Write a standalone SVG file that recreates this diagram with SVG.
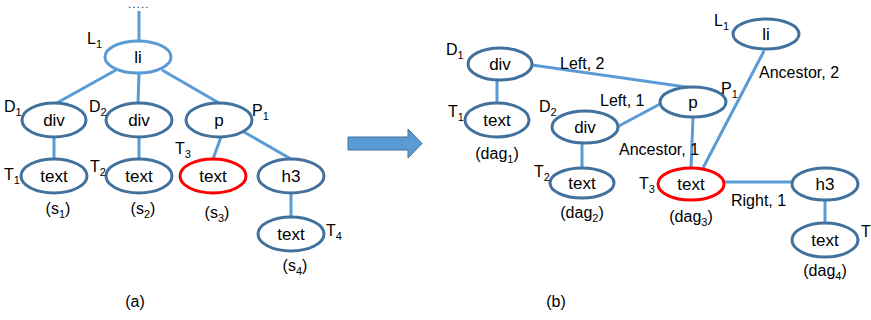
<svg xmlns="http://www.w3.org/2000/svg" width="871" height="320" viewBox="0 0 871 320">
<style>
.n{fill:#fff;stroke:#41719c;stroke-width:3}
.nl{fill:#fff;stroke:#5b9bd5;stroke-width:3}
.nr{fill:#fff;stroke:#ff0000;stroke-width:3}
.e{stroke:#5b9bd5;stroke-width:3;fill:none}
text{font-family:"Liberation Sans",Arial,sans-serif;fill:#000}
.t{font-size:17px;text-anchor:middle}
.l{font-size:16px}
.c{font-size:16px;text-anchor:middle}
.s{font-size:11px}
</style>
<rect width="871" height="320" fill="#fff"/>
<g id="connectors">
<line class="e" x1="139" y1="11" x2="139" y2="41"/>
<line class="e" x1="116" y1="70" x2="55" y2="104"/>
<line class="e" x1="139" y1="74" x2="138" y2="103"/>
<line class="e" x1="162" y1="70" x2="219" y2="103"/>
<line class="e" x1="54" y1="137" x2="54" y2="159"/>
<line class="e" x1="139" y1="137" x2="139" y2="159"/>
<line class="e" x1="221" y1="137" x2="213" y2="159"/>
<line class="e" x1="244" y1="132" x2="291" y2="159"/>
<line class="e" x1="291" y1="193" x2="291" y2="217"/>
<line class="e" x1="497" y1="80" x2="497" y2="104"/>
<line class="e" x1="582" y1="143" x2="582" y2="168"/>
<line class="e" x1="532" y1="65" x2="693" y2="88"/>
<line class="e" x1="617" y1="127" x2="660" y2="104"/>
<line class="e" x1="693" y1="118" x2="691" y2="168"/>
<line class="e" x1="764" y1="51" x2="703" y2="168"/>
<line class="e" x1="724" y1="182" x2="793" y2="182"/>
<line class="e" x1="825" y1="200" x2="825" y2="222"/>
</g>
<text x="139" y="8" style="font-size:10px;letter-spacing:1.5px;text-anchor:middle">.....</text>
<g id="a_li"><ellipse class="nl" cx="138" cy="57" rx="33" ry="16"/><text class="t" x="138" y="63">li</text></g>
<text class="l" x="87" y="44">L<tspan class="s" dy="4">1</tspan></text>
<g id="a_D1"><ellipse class="n" cx="54" cy="120" rx="32" ry="17"/><text class="t" x="54" y="126">div</text></g>
<text class="l" x="4" y="112">D<tspan class="s" dy="4">1</tspan></text>
<g id="a_D2"><ellipse class="n" cx="139" cy="120" rx="33" ry="17"/><text class="t" x="139" y="126">div</text></g>
<text class="l" x="89" y="112">D<tspan class="s" dy="4">2</tspan></text>
<g id="a_P1"><ellipse class="n" cx="219" cy="120" rx="33" ry="17"/><text class="t" x="219" y="126">p</text></g>
<text class="l" x="252" y="116">P<tspan class="s" dy="4">1</tspan></text>
<g id="a_T1"><ellipse class="n" cx="54" cy="176" rx="33" ry="17"/><text class="t" x="54" y="182">text</text></g>
<text class="l" x="4" y="180">T<tspan class="s" dy="4">1</tspan></text>
<g id="a_T2"><ellipse class="n" cx="139" cy="176" rx="33" ry="17"/><text class="t" x="139" y="182">text</text></g>
<text class="l" x="90" y="172">T<tspan class="s" dy="4">2</tspan></text>
<g id="a_T3"><ellipse class="nr" cx="213" cy="176" rx="33" ry="17"/><text class="t" x="213" y="182">text</text></g>
<text class="l" x="175" y="154">T<tspan class="s" dy="4">3</tspan></text>
<g id="a_h3"><ellipse class="n" cx="291" cy="176" rx="33" ry="17"/><text class="t" x="291" y="182">h3</text></g>
<g id="a_T4"><ellipse class="n" cx="291" cy="234" rx="33" ry="17"/><text class="t" x="291" y="240">text</text></g>
<text class="l" x="326" y="236">T<tspan class="s" dy="4">4</tspan></text>
<text class="c" x="58" y="214">(s<tspan class="s" dy="4">1</tspan><tspan dy="-4">)</tspan></text>
<text class="c" x="143" y="214">(s<tspan class="s" dy="4">2</tspan><tspan dy="-4">)</tspan></text>
<text class="c" x="217" y="218">(s<tspan class="s" dy="4">3</tspan><tspan dy="-4">)</tspan></text>
<text class="c" x="295" y="271">(s<tspan class="s" dy="4">4</tspan><tspan dy="-4">)</tspan></text>
<text class="c" x="135" y="307">(a)</text>
<g id="arrow"><polygon points="348,137 408,137 408,129 422,143.5 408,158 408,150 348,150" fill="#5b9bd5" stroke="#41719c" stroke-width="1"/></g>
<g id="b_D1"><ellipse class="n" cx="500" cy="64" rx="32" ry="16"/><text class="t" x="500" y="70">div</text></g>
<text class="l" x="446" y="55">D<tspan class="s" dy="4">1</tspan></text>
<g id="b_T1"><ellipse class="n" cx="497" cy="120" rx="32" ry="17"/><text class="t" x="497" y="126">text</text></g>
<text class="l" x="448" y="117">T<tspan class="s" dy="4">1</tspan></text>
<g id="b_D2"><ellipse class="n" cx="585" cy="127" rx="33" ry="16"/><text class="t" x="585" y="133">div</text></g>
<text class="l" x="539" y="112">D<tspan class="s" dy="4">2</tspan></text>
<g id="b_T2"><ellipse class="n" cx="582" cy="183" rx="32" ry="15"/><text class="t" x="582" y="189">text</text></g>
<text class="l" x="534" y="177">T<tspan class="s" dy="4">2</tspan></text>
<g id="b_P1"><ellipse class="n" cx="693" cy="102" rx="33" ry="15"/><text class="t" x="693" y="108">p</text></g>
<text class="l" x="721" y="94">P<tspan class="s" dy="4">1</tspan></text>
<g id="b_L1"><ellipse class="n" cx="766" cy="34" rx="33" ry="15"/><text class="t" x="766" y="40">li</text></g>
<text class="l" x="714" y="26">L<tspan class="s" dy="4">1</tspan></text>
<g id="b_T3"><ellipse class="nr" cx="691" cy="184" rx="33" ry="16"/><text class="t" x="691" y="190">text</text></g>
<text class="l" x="639" y="189">T<tspan class="s" dy="4">3</tspan></text>
<g id="b_h3"><ellipse class="n" cx="825" cy="184" rx="33" ry="16"/><text class="t" x="825" y="190">h3</text></g>
<g id="b_T4"><ellipse class="n" cx="825" cy="240" rx="33" ry="17"/><text class="t" x="825" y="246">text</text></g>
<text class="l" x="861" y="237">T<tspan class="s" dy="4">4</tspan></text>
<text class="l" x="560" y="69">Left, 2</text>
<text class="l" x="600" y="106">Left, 1</text>
<text class="l" x="759" y="78">Ancestor, 2</text>
<text class="l" x="619" y="155">Ancestor, 1</text>
<text class="l" x="731" y="206">Right, 1</text>
<text class="c" x="497" y="159">(dag<tspan class="s" dy="4">1</tspan><tspan dy="-4">)</tspan></text>
<text class="c" x="582" y="218">(dag<tspan class="s" dy="4">2</tspan><tspan dy="-4">)</tspan></text>
<text class="c" x="691" y="222">(dag<tspan class="s" dy="4">3</tspan><tspan dy="-4">)</tspan></text>
<text class="c" x="825" y="276">(dag<tspan class="s" dy="4">4</tspan><tspan dy="-4">)</tspan></text>
<text class="c" x="556" y="307">(b)</text>
</svg>
